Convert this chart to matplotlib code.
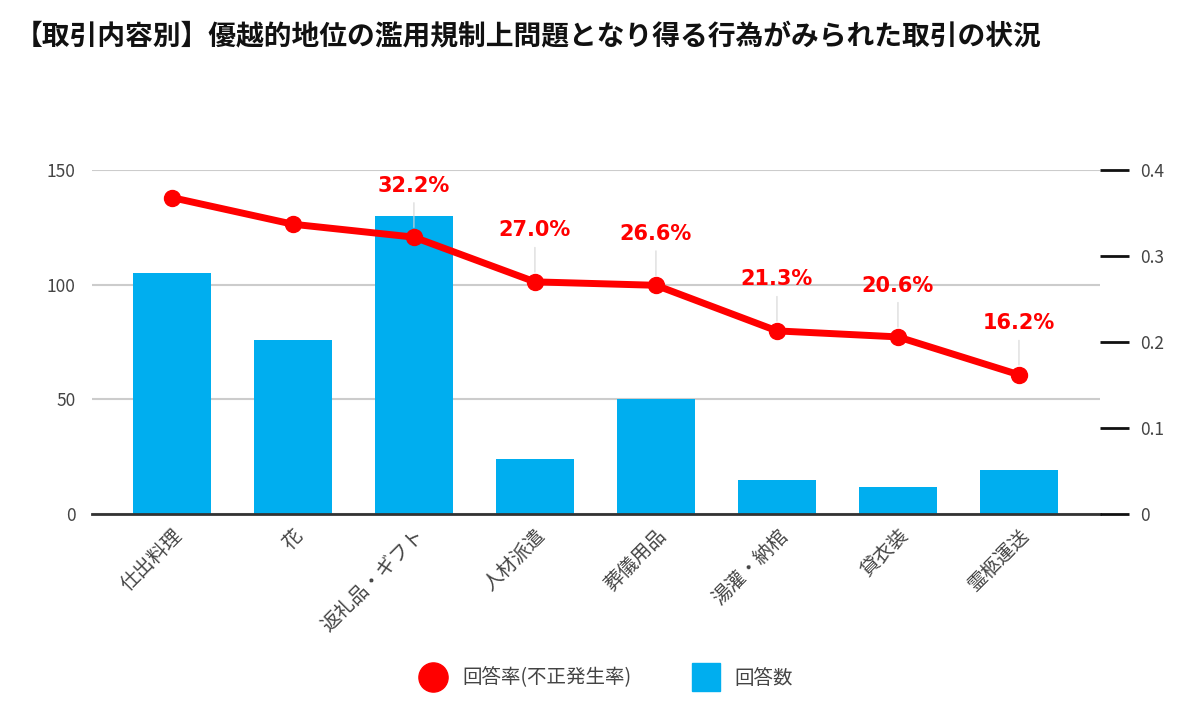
import matplotlib
matplotlib.use("Agg")
import matplotlib.pyplot as plt
from matplotlib.lines import Line2D

plt.rcParams["font.family"] = ["Noto Sans CJK JP", "DejaVu Sans"]

TITLE = "【取引内容別】優越的地位の濫用規制上問題となり得る行為がみられた取引の状況"
categories = ["仕出料理", "花", "返礼品・ギフト", "人材派遣", "葬儀用品", "湯灌・納棺", "貸衣装", "霊柩運送"]
counts = [105, 76, 130, 24, 50, 15, 12, 19]
rates = [0.368, 0.337, 0.322, 0.270, 0.266, 0.213, 0.206, 0.162]
labeled = [False, False, True, True, True, True, True, True]
left_ticks = [0, 50, 100, 150]
right_ticks = [0, 0.1, 0.2, 0.3, 0.4]

BLUE = "#00aeef"
RED = "#ff0000"
TEXT = "#444444"

fig = plt.figure(figsize=(12, 7.13), dpi=100)
ax = fig.add_axes([0.0767, 0.279, 0.84, 0.4825])
ax2 = ax.twinx()

x = list(range(len(categories)))
ax.bar(x, counts, width=0.645, color=BLUE, zorder=2)
ax.set_xlim(-0.66, 7.67)
ax.set_ylim(0, 150)
ax.set_yticks(left_ticks)
ax.yaxis.grid(True, color="#cccccc", linewidth=1.5, zorder=0)
ax.set_axisbelow(True)
ax.tick_params(axis="y", length=0, pad=12, labelsize=12.5, labelcolor=TEXT)
ax.tick_params(axis="x", length=0, pad=8)
ax.set_xticks(x)
ax.set_xticklabels(categories, rotation=45, ha="right", rotation_mode="anchor",
                   fontsize=14, color=TEXT)
for s in ["top", "left", "right"]:
    ax.spines[s].set_visible(False)
ax.spines["bottom"].set_color("#333333")
ax.spines["bottom"].set_linewidth(2)

ax2.plot(x, rates, color=RED, linewidth=5, marker="o", markersize=11.5, zorder=5)
ax2.set_ylim(0, 0.4)
ax2.set_yticks(right_ticks)
ax2.set_yticklabels(["0", "0.1", "0.2", "0.3", "0.4"])
ax2.tick_params(axis="y", length=21, width=2, color="#111111", pad=8,
                labelsize=12.5, labelcolor=TEXT)
for s in ["top", "left", "right", "bottom"]:
    ax2.spines[s].set_visible(False)

for i, (v, show) in enumerate(zip(rates, labeled)):
    if not show:
        continue
    ax2.annotate(f"{v * 100:.1f}%", xy=(i, v), xytext=(0, 37), textcoords="offset points",
                 ha="center", va="center", color=RED, fontsize=15, fontweight="bold",
                 family=["DejaVu Sans"],
                 arrowprops=dict(arrowstyle="-", color="#d5d5d5", lw=0.8,
                                 shrinkA=3, shrinkB=7))

fig.text(0.0125, 1 - 37 / 713, TITLE, fontsize=20, fontweight="bold",
         color="#111111", va="center", ha="left")

handles = [
    Line2D([], [], linestyle="none", marker="o", markersize=21, color=RED),
    Line2D([], [], linestyle="none", marker="s", markersize=20, color=BLUE),
]
fig.legend(handles, ["回答率(不正発生率)", "回答数"], loc="center",
           bbox_to_anchor=(0.503, 1 - 678 / 713), ncol=2, frameon=False,
           fontsize=14, labelcolor=TEXT, columnspacing=2.8, handletextpad=0.5)

fig.savefig("out.png", dpi=100)
